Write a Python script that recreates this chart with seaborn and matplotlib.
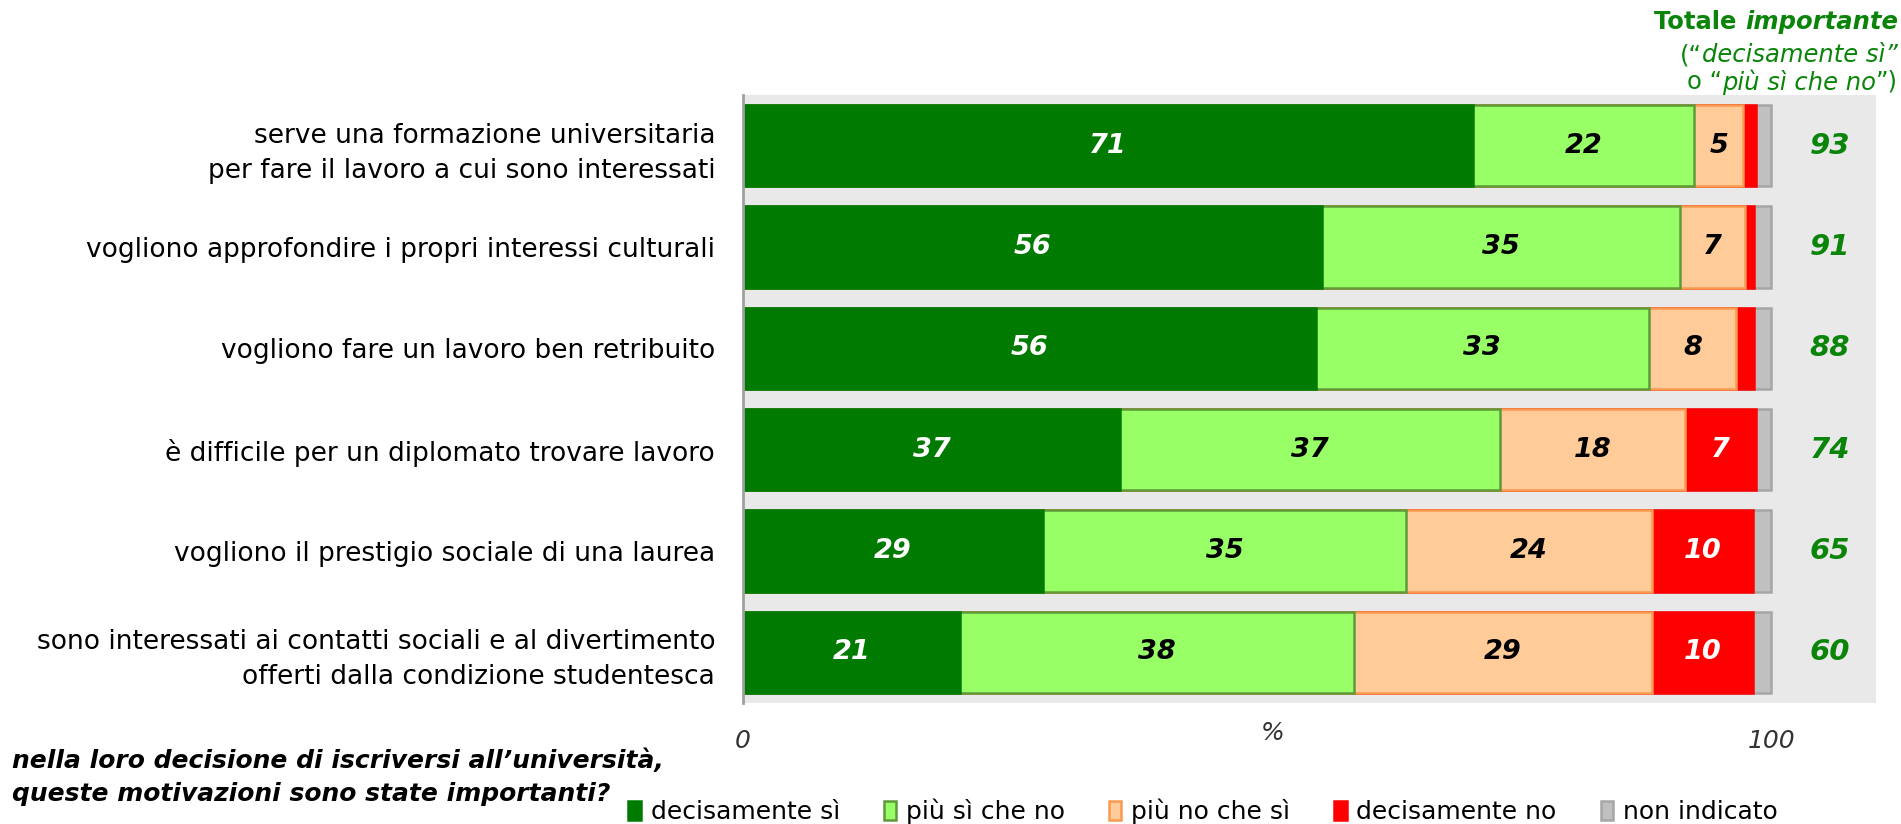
import matplotlib
matplotlib.use("Agg")
import matplotlib.pyplot as plt
import matplotlib.patches as mpatches
import numpy as np
import seaborn as sns

# data (widths in %)
categories = [
    "serve una formazione universitaria\nper fare il lavoro a cui sono interessati",
    "vogliono approfondire i propri interessi culturali",
    "vogliono fare un lavoro ben retribuito",
    "è difficile per un diplomato trovare lavoro",
    "vogliono il prestigio sociale di una laurea",
    "sono interessati ai contatti sociali e al divertimento\nofferti dalla condizione studentesca",
]
decisamente_si = [71.0, 56.3, 55.7, 36.7, 29.2, 21.1]
piu_si_che_no = [21.5, 34.8, 32.4, 36.9, 35.3, 38.3]
piu_no_che_si = [4.8, 6.4, 8.5, 18.0, 23.9, 29.0]
decisamente_no = [1.2, 0.8, 1.7, 6.9, 9.8, 9.8]
non_indicato = [1.5, 1.7, 1.7, 1.5, 1.8, 1.8]

# printed labels
lab_si = ["71", "56", "56", "37", "29", "21"]
lab_piu_si = ["22", "35", "33", "37", "35", "38"]
lab_piu_no = ["5", "7", "8", "18", "24", "29"]
lab_no = ["", "", "", "7", "10", "10"]
lab_ni = ["", "", "", "", "", ""]
totale_importante = ["93", "91", "88", "74", "65", "60"]

series_names = ["decisamente sì", "più sì che no", "più no che sì", "decisamente no", "non indicato"]
fill_cols = ["#007A00", "#99FF66", "#FFCC99", "#FF0000", "#C0C0C0"]
edge_cols = ["#007A00", "#5E9A3A", "#F99A50", "#FF0000", "#A6A6A6"]
text_cols = ["white", "black", "black", "white", "black"]

sns.set_style("white")
plt.rcParams["font.family"] = ["DejaVu Sans"]
plt.rcParams["text.color"] = "black"

W, H = 1901, 824
fig = plt.figure(figsize=(W / 100, H / 100), dpi=100)
ax = fig.add_axes([743 / W, 121 / H, (1876 - 743) / W, (703 - 95) / H])
ax.set_facecolor("#E9E9E9")

series = [decisamente_si, piu_si_che_no, piu_no_che_si, decisamente_no, non_indicato]
labels = [lab_si, lab_piu_si, lab_piu_no, lab_no, lab_ni]
cum = np.cumsum(np.array(series), axis=0)

# stacked bars: draw cumulative totals from the right-most segment backwards
for k in range(len(series) - 1, -1, -1):
    sns.barplot(x=cum[k], y=categories, orient="h", color=fill_cols[k],
                edgecolor=edge_cols[k], linewidth=1.8, saturation=1,
                width=0.8, ax=ax)

for k in range(len(series)):
    start = cum[k] - np.array(series[k])
    for i in range(len(categories)):
        if labels[k][i]:
            ax.text(start[i] + series[k][i] / 2, i, labels[k][i], ha="center", va="center",
                    fontsize=19.5, fontweight="bold", fontstyle="italic", color=text_cols[k])

for i, t in enumerate(totale_importante):
    ax.text(105.7, i, t, ha="center", va="center", fontsize=21,
            fontweight="bold", fontstyle="italic", color="#0A850A")

ax.set_xlim(0, 110.2)
ax.set_ylim(5.5, -0.5)
ax.set_xlabel("")
ax.set_ylabel("")
ax.set_xticks([0, 100])
ax.set_xticklabels(["0", "100"], fontstyle="italic", fontsize=18, color="#333333")
ax.tick_params(axis="x", length=0, pad=19)
ax.tick_params(axis="y", length=0, pad=20, labelsize=19, labelcolor="black")
for lbl in ax.get_yticklabels():
    lbl.set_linespacing(1.45)
ax.text(51.5, -0.05, "%", transform=ax.get_xaxis_transform(), ha="center", va="center",
        fontsize=18, fontstyle="italic", color="#333333")

for s in ["top", "right", "bottom"]:
    ax.spines[s].set_visible(False)
ax.spines["left"].set_color("#A0A0A0")
ax.spines["left"].set_linewidth(2)

# header on the right, assembled right to left
renderer = fig.canvas.get_renderer()
def right_pieces(pieces, y_px, size):
    x = 1898
    for txt, style, weight in reversed(pieces):
        t = fig.text(x / W, 1 - y_px / H, txt, ha="right", va="center", fontsize=size,
                     fontstyle=style, fontweight=weight, color="#0A850A")
        x = t.get_window_extent(renderer).x0

right_pieces([("Totale ", "normal", "bold"), ("importante", "italic", "bold")], 22, 17.5)
right_pieces([("(“", "normal", "normal"), ("decisamente sì”", "italic", "normal")], 55, 17.5)
right_pieces([("o “", "normal", "normal"), ("più sì che no", "italic", "normal"),
              ("”)", "normal", "normal")], 82, 17.5)

fig.text(12 / W, 1 - 761 / H, "nella loro decisione di iscriversi all’università,",
         fontsize=18, fontweight="bold", fontstyle="italic", va="center", ha="left",
         color="black")
fig.text(12 / W, 1 - 794 / H, "queste motivazioni sono state importanti?",
         fontsize=18, fontweight="bold", fontstyle="italic", va="center", ha="left",
         color="black")

handles = [mpatches.Patch(facecolor=f, edgecolor=e, linewidth=1.8, label=n)
           for f, e, n in zip(fill_cols, edge_cols, series_names)]
fig.legend(handles=handles, loc="center left", bbox_to_anchor=(628 / W, 1 - 811 / H),
           ncol=5, frameon=False, fontsize=18, handlelength=0.5, handleheight=0.8,
           handletextpad=0.4, columnspacing=1.75, borderpad=0, borderaxespad=0,
           labelcolor="black")

fig.savefig("out.png", dpi=100)
